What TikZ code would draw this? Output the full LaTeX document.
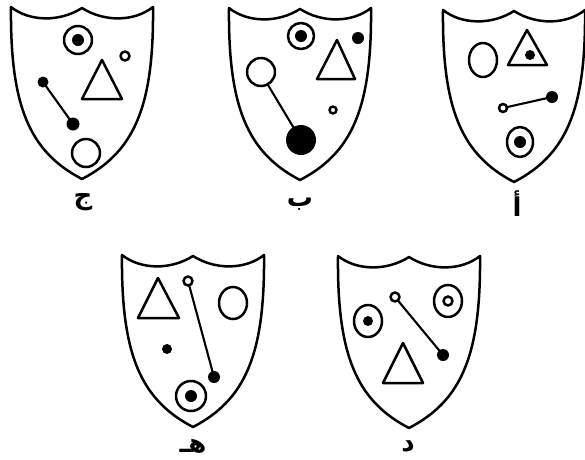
\documentclass[tikz,border=0pt]{standalone}
\usepackage{fontspec}
\newfontfamily\arabicfont[Script=Arabic]{DejaVu Sans}
\TeXXeTstate=1
\begin{document}
\begin{tikzpicture}[x=1pt,y=-1pt,line width=2.5pt,line join=round,
  shield/.pic={\draw (-71,0) .. controls (-52,15) and (-22,15) .. (0,1)
     .. controls (22,15) and (52,15) .. (71,0)
     .. controls (72,100) and (52,145) .. (0,172)
     .. controls (-52,145) and (-72,100) .. cycle;},
  lab/.style={font=\arabicfont\bfseries\fontsize{26}{30}\selectfont,inner sep=0pt},
  stick/.style={line width=2.1pt}]
\useasboundingbox (0,0) rectangle (585,459);
% ---- shield j
\pic at (82,7) {shield};
\draw (78,40) circle (14);
\fill (78,40) circle (6);
\draw (125,56) circle (4.5);
\draw (102,60) -- (82,99) -- (122,99) -- cycle;
\draw[stick] (43,82) -- (73,124);
\fill (43,82) circle (5.5);
\fill (73,124) circle (6.5);
\draw (86,153) circle (14);
\node[lab] (lj) at (83,202) {\beginR ج\endR};
% ---- shield b
\pic at (300,8) {shield};
\draw (301,36) circle (13);
\fill (301,36) circle (6);
\fill (358,38) circle (6);
\draw (337,40) -- (317,79) -- (355,79) -- cycle;
\draw[stick] (268,85) -- (301,140);
\draw[fill=white] (261,72) circle (14);
\fill (301,140) circle (15);
\draw (333,110) circle (3.5);
\node[lab] (lb) at (300,204) {\beginR ب\endR};
% ---- shield a
\pic at (514,10) {shield};
\draw (483,60) ellipse (14 and 17);
\draw (527,30) -- (508,65) -- (547,65) -- cycle;
\fill (530,55) circle (5);
\draw[stick] (503,108) -- (552,97);
\draw[fill=white] (503,108) circle (4);
\fill (552,97) circle (6);
\draw (520,142) ellipse (13 and 15);
\fill (520,142) circle (6);
\node[lab] (la) at (517,204) {\beginR أ\endR};
% ---- shield h
\pic at (193,255) {shield};
\draw (158,278) -- (138,318) -- (179,318) -- cycle;
\draw[stick] (188,281) -- (214,377);
\draw[fill=white] (188,281) circle (4.5);
\fill (214,377) circle (6);
\draw (233,303) ellipse (14 and 16);
\fill (167,349) circle (5);
\draw (191,396) circle (15);
\fill (191,396) circle (6);
\node[lab] (lh) at (193,446) {\beginR هـ\endR};
% ---- shield d
\pic at (409,256) {shield};
\draw (368,321) ellipse (14 and 16);
\fill (368,321) circle (5);
\draw[stick] (395,297) -- (443,355);
\draw[fill=white] (395,297) circle (4.5);
\fill (443,355) circle (6);
\draw (448,301) ellipse (14 and 16);
\draw (448,301) circle (4.5);
\draw (403,343) -- (383,383) -- (423,383) -- cycle;
\node[lab] (ld) at (408,446) {\beginR د\endR};
\end{tikzpicture}
\end{document}
